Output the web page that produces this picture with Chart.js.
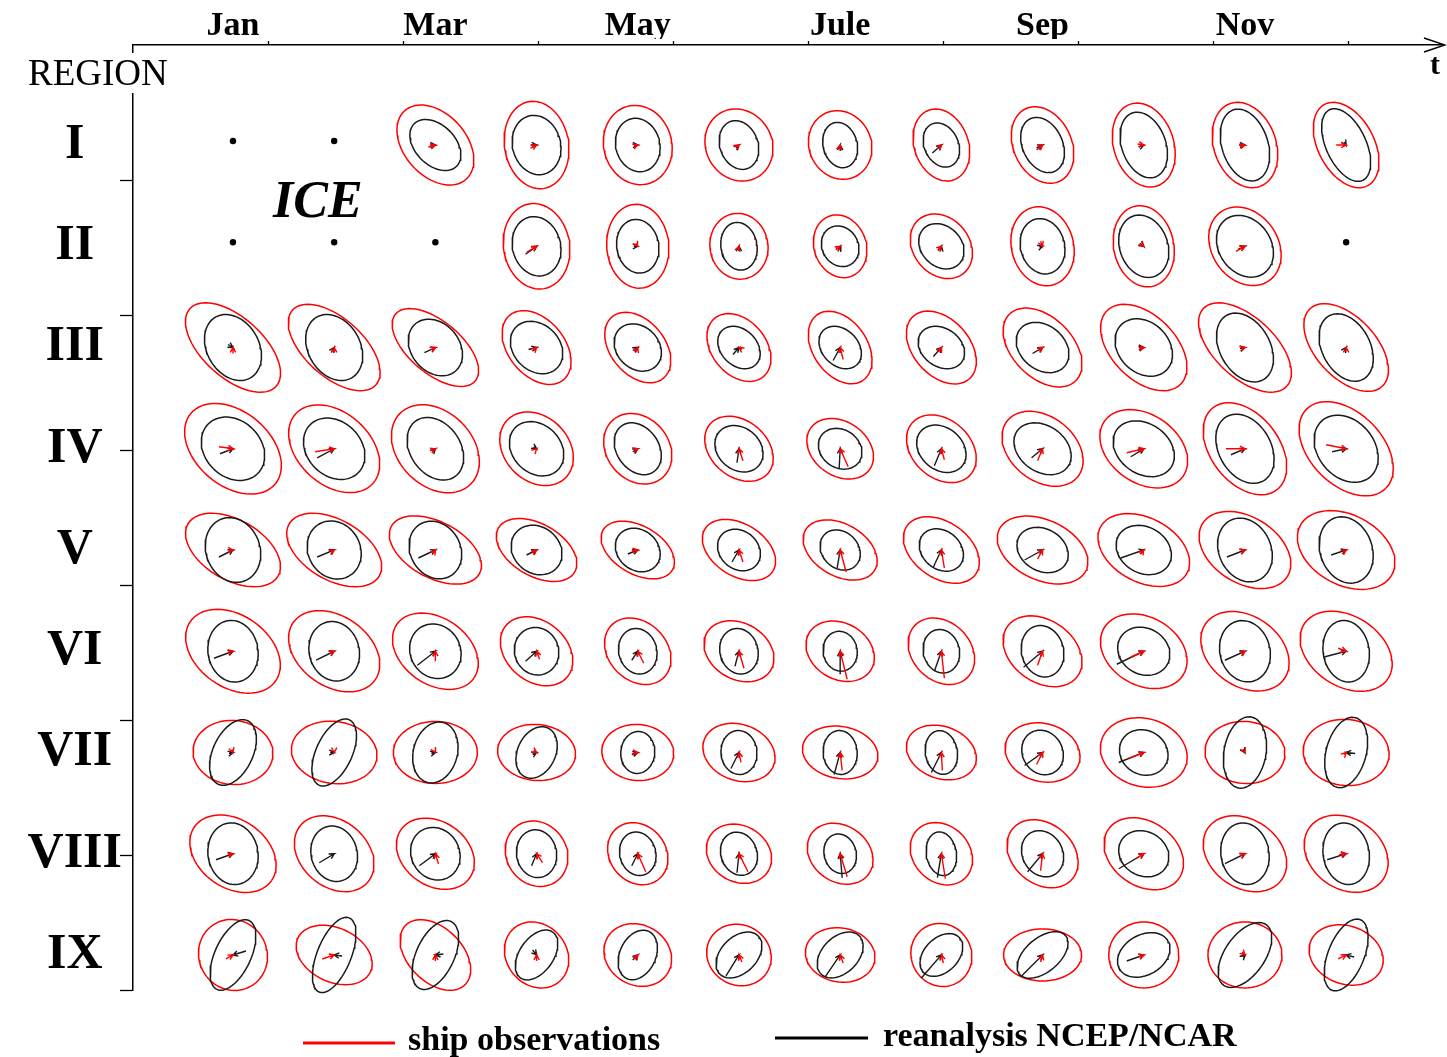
<!DOCTYPE html>
<html>
<head>
<meta charset="utf-8">
<title>Wind variability ellipses by region and month</title>
<script src="https://cdn.jsdelivr.net/npm/chart.js@4.4.1/dist/chart.umd.min.js"></script>
<style>
  html, body { margin: 0; padding: 0; background: #fff; }
  canvas { display: block; }
</style>
</head>
<body>
<canvas id="chart" width="1447" height="1057"></canvas>
<script>
// months along the time axis, regions down the side
const months = ["Jan", "Feb", "Mar", "Apr", "May", "Jun", "Jule", "Aug", "Sep", "Oct", "Nov", "Dec"];
const labelledMonths = [1, 3, 5, 7, 9, 11];
const regions = ["I", "II", "III", "IV", "V", "VI", "VII", "VIII", "IX"];

// cells under ice, [region, month]
const iceCells = [[1, 1], [1, 2], [2, 1], [2, 2], [2, 3], [2, 12]];

// variance ellipses in m/s: [semi-axis a, semi-axis b, tilt of a in degrees], null = ice
const shipEllipse = [
  [null, null, [4.6,3.1,-48], [4.4,3.2,-80], [4.0,3.4,-75], [3.7,3.3,-60], [3.5,3.1,-65], [3.7,2.7,-70], [4.0,2.9,-65], [4.3,3.0,-72], [4.4,3.1,-70], [4.6,2.8,-62]],
  [null, null, null, [4.3,3.3,-80], [4.2,3.1,-85], [3.3,2.9,-80], [3.2,2.6,-70], [3.5,2.8,-50], [4.0,3.1,-75], [4.1,3.0,-78], [4.2,3.3,-55], null],
  [[5.8,3.0,-42], [5.6,2.9,-42], [5.2,2.6,-40], [4.2,2.8,-50], [4.0,2.7,-50], [3.8,2.7,-50], [4.0,2.7,-55], [4.2,2.8,-48], [4.7,3.0,-45], [5.2,3.2,-45], [5.7,3.0,-43], [5.3,3.0,-47]],
  [[5.5,3.7,-40], [5.2,3.6,-42], [5.0,3.7,-45], [4.1,3.2,-45], [3.8,3.1,-50], [3.8,2.8,-40], [3.6,2.7,-35], [3.9,2.9,-42], [4.5,3.2,-38], [4.8,3.4,-35], [5.2,3.4,-52], [5.6,3.6,-45]],
  [[5.2,3.0,-30], [5.2,3.0,-30], [5.0,2.8,-28], [4.4,2.6,-30], [4.0,2.4,-30], [4.0,2.6,-32], [4.0,2.6,-30], [4.2,2.8,-35], [4.8,3.0,-25], [4.9,3.2,-28], [5.0,3.3,-32], [5.2,3.5,-28]],
  [[5.2,3.6,-35], [5.0,3.5,-35], [4.7,3.3,-35], [4.0,3.0,-40], [3.7,2.9,-45], [3.7,2.8,-30], [3.6,2.8,-30], [3.7,2.9,-45], [4.3,3.1,-35], [4.6,3.4,-30], [4.8,3.5,-35], [5.0,3.5,-33]],
  [[4.0,3.2,-5], [4.3,3.1,-8], [4.2,3.1,0], [3.9,2.8,-5], [3.6,2.8,-5], [3.7,2.8,-20], [3.8,2.6,-10], [3.6,2.6,-20], [3.8,2.9,-15], [4.4,3.4,-15], [4.0,3.1,-5], [4.3,3.3,-5]],
  [[4.7,3.4,-35], [4.4,3.3,-40], [4.2,3.2,-35], [3.4,3.0,-55], [3.3,2.8,-50], [3.4,2.8,-30], [3.5,2.8,-35], [3.4,2.8,-45], [3.9,3.0,-40], [4.3,3.2,-35], [4.5,3.4,-35], [4.5,3.5,-35]],
  [[3.6,3.4,-60], [4.0,2.7,-25], [4.2,2.7,-45], [3.5,3.0,-50], [3.5,3.0,-30], [3.3,3.0,-30], [3.5,2.7,-10], [3.2,3.0,-60], [3.9,2.6,0], [3.5,3.3,0], [3.7,3.3,0], [3.8,2.9,-20]]
];

const ncepEllipse = [
  [null, null, [3.0,2.0,-45], [3.0,2.4,-75], [2.7,2.2,-75], [2.5,1.9,-70], [2.3,1.7,-75], [2.3,1.7,-65], [2.9,2.0,-65], [3.4,2.2,-70], [3.7,2.3,-72], [3.9,2.0,-65]],
  [null, null, null, [3.0,2.4,-75], [2.7,2.1,-80], [2.4,1.8,-80], [2.1,1.8,-60], [2.5,2.0,-45], [2.8,2.2,-75], [3.2,2.4,-70], [3.3,2.6,-55], null],
  [[3.5,2.6,-60], [3.5,2.6,-60], [3.1,2.4,-50], [2.9,2.3,-45], [2.6,2.1,-45], [2.4,1.8,-45], [2.4,1.8,-45], [2.5,1.9,-35], [2.9,2.2,-40], [3.2,2.5,-45], [3.7,2.5,-60], [3.6,2.4,-62]],
  [[3.5,2.8,-45], [3.4,2.7,-45], [3.4,2.5,-55], [3.0,2.4,-45], [2.8,2.1,-55], [2.6,2.1,-40], [2.3,1.9,-35], [2.7,2.1,-40], [3.1,2.3,-35], [3.3,2.5,-35], [3.7,2.6,-60], [3.7,2.8,-50]],
  [[3.3,2.7,-70], [3.0,2.6,-60], [3.0,2.5,-60], [2.7,2.3,-40], [2.4,2.0,-40], [2.3,1.9,-40], [2.2,1.8,-45], [2.4,1.9,-40], [2.7,2.1,-30], [2.9,2.3,-30], [3.3,2.6,-65], [3.4,2.6,-70]],
  [[3.1,2.5,-80], [3.0,2.5,-75], [2.8,2.5,-60], [2.4,2.2,-70], [2.3,1.9,-75], [2.3,1.9,-75], [2.0,1.7,-80], [2.2,1.8,-75], [2.6,2.1,-75], [2.7,2.3,-30], [3.1,2.5,-75], [3.1,2.3,-80]],
  [[3.5,2.0,65], [3.6,1.8,65], [3.1,2.2,75], [2.7,1.9,65], [2.1,1.7,85], [2.2,1.8,-85], [2.2,1.7,-85], [2.2,1.6,-80], [2.3,2.0,-60], [2.5,2.2,-30], [3.6,2.1,80], [3.6,2.0,75]],
  [[3.1,2.5,-80], [2.8,2.3,-75], [2.7,2.4,-60], [2.4,2.0,-80], [2.2,1.8,-75], [2.2,1.8,-70], [2.0,1.6,-75], [2.2,1.5,-80], [2.4,2.0,-60], [2.6,2.2,-30], [3.1,2.4,-80], [3.1,2.3,-80]],
  [[3.8,1.8,65], [4.0,1.7,68], [3.7,1.9,65], [2.8,1.7,55], [2.6,1.8,65], [2.7,1.8,45], [2.7,1.8,45], [2.5,1.7,45], [3.0,1.7,40], [2.8,2.0,30], [3.7,2.0,55], [3.8,1.8,68]]
];

// mean wind vectors in m/s: [u, v]
const shipMean = [
  [null, null, [0.7,0.2], [0.6,0.3], [0.3,0.1], [0.3,0.2], [0.1,0.4], [0.2,0.2], [0.6,0.5], [0.6,-0.1], [0.5,0.1], [1.0,0]],
  [null, null, null, [1.0,0.6], [0.2,-0.3], [0.1,0.3], [0.4,0.3], [0.3,0.3], [0.2,-0.5], [0.2,-0.2], [0.9,0.5], null],
  [[0,0.6], [0,0.5], [0.4,0.2], [0.3,0.3], [0.2,0.5], [-0.3,0.2], [-0.3,1.2], [0.2,0.4], [0.4,0.3], [0.4,0.1], [0.3,0.1], [0,0.3]],
  [[1.4,-0.2], [1.9,0.3], [0.5,0.2], [0.1,0.1], [0.3,0.1], [-0.4,1.2], [-0.8,1.8], [-0.3,1.1], [0.5,1.2], [1.7,0.4], [1.9,0], [2.0,-0.4]],
  [[0.4,0], [0.3,0.2], [0.2,0.3], [0.4,0.3], [0.6,0.1], [-0.4,1.2], [-0.6,2.2], [-0.3,1.8], [0.5,0.9], [0.3,0.4], [0.3,0.1], [0.3,0.2]],
  [[0.5,0.1], [0.4,0.2], [0,1.0], [-0.3,0.8], [-0.6,1.2], [-0.5,1.7], [-0.7,2.8], [-0.3,2.7], [0.5,1.4], [1.3,0.6], [0.3,0.2], [0.8,-0.3]],
  [[0.1,-0.3], [0,-0.2], [0.1,-0.2], [0.3,-0.2], [0.4,0], [-0.2,1.0], [-0.2,1.8], [-0.1,1.8], [0.6,1.2], [1.5,0.6], [0.1,-0.2], [0.2,0.2]],
  [[0.5,0.1], [0,0], [-0.3,1.0], [-0.6,0.9], [-0.8,1.8], [-0.9,1.8], [-0.7,2.3], [-0.4,2.5], [0.2,1.7], [0.8,0.5], [0.4,0.2], [0.7,0.1]],
  [[0.7,0.4], [1.2,0.4], [0,0.6], [0,0.6], [0.3,0.4], [-0.3,0.7], [-0.3,0.8], [-0.2,0.8], [0.2,0.7], [0.5,0.2], [0.3,-0.3], [0.8,0.4]]
];

const ncepMean = [
  [null, null, [0.5,0], [0.6,0], [0.4,0], [0.3,0.3], [0,0.6], [0.9,0.8], [0.6,0.3], [0.5,0.2], [0.6,0], [0.2,-0.3]],
  [null, null, null, [1.1,0.8], [0.4,0], [0,0.5], [0.2,0.5], [0.1,0.5], [0.3,0.1], [0.4,-0.3], [0.7,0.3], null],
  [[0.5,-0.3], [0.3,0.5], [1.1,0.5], [0.8,0.2], [0.5,0.3], [0.6,0.7], [0.7,1.3], [0.8,0.9], [1.0,0.6], [0.5,0], [0.5,0.1], [0.2,0.3]],
  [[1.3,0.5], [1.7,0.9], [0.3,0.3], [0.3,-0.2], [0.5,0.3], [0.2,1.4], [0.1,2.0], [0.7,1.7], [1.1,0.9], [1.3,0.8], [1.4,0.6], [1.4,0.3]],
  [[1.4,0.7], [1.7,0.7], [1.7,0.8], [1.0,0.5], [1.0,0.4], [0.7,1.2], [0.3,1.8], [0.8,1.7], [1.8,1.0], [2.3,0.8], [1.8,0.7], [1.5,0.5]],
  [[1.9,0.7], [1.8,0.9], [1.8,1.4], [1.1,1.0], [0.6,0.9], [0.4,1.5], [0,2.3], [0.7,2.0], [1.9,1.6], [2.7,1.3], [2.0,0.9], [2.3,0.6]],
  [[0.4,0.1], [0.4,0], [0.4,0.1], [0.4,0.2], [0.6,0.2], [0.8,1.6], [0.6,2.2], [1.0,2.0], [1.8,1.3], [2.5,1.0], [0.2,-0.3], [-0.9,0.1]],
  [[1.7,0.6], [1.5,0.9], [1.6,1.2], [0.5,1.2], [0.6,1.2], [0.2,1.9], [-0.2,2.4], [0.4,2.4], [1.5,1.8], [2.5,1.5], [2.0,1.0], [1.9,0.6]],
  [[-1.3,-0.4], [-0.8,0.1], [-0.8,-0.1], [0.4,-0.5], [0.5,0.5], [1.3,2.1], [1.5,2.2], [2.0,2.3], [2.1,2.1], [1.7,0.6], [0.2,0.2], [-0.8,0.2]]
];

const SERIF = '"Liberation Serif", "Times New Roman", serif';
const RED = '#ff0000';
const BLACK = '#1a1a1a';
const UNIT = 0.0988;      // grid cells per m/s
const HEAD = 0.055;       // arrowhead length, grid cells

// outline of one ellipse around the cell (month, region)
function ellipsePoints(col, row, e) {
  const [a, b, tilt] = e;
  const th = tilt * Math.PI / 180;
  const pts = [];
  for (let i = 0; i <= 72; i++) {
    const t = i / 72 * 2 * Math.PI;
    const ex = a * Math.cos(t), ey = b * Math.sin(t);
    const dx = ex * Math.cos(th) - ey * Math.sin(th);
    const dy = ex * Math.sin(th) + ey * Math.cos(th);
    pts.push({ x: col + dx * UNIT, y: row - dy * UNIT });
  }
  return pts;
}

// mean vector ending in the cell centre, with an open head
function arrowPoints(col, row, m) {
  const [u, v] = m;
  if (u === 0 && v === 0) return [];
  const ang = Math.atan2(v, u);
  const tip = { x: col, y: row };
  const tail = { x: col - u * UNIT, y: row + v * UNIT };
  const h1 = { x: col - HEAD * Math.cos(ang - 0.5), y: row + HEAD * Math.sin(ang - 0.5) };
  const h2 = { x: col - HEAD * Math.cos(ang + 0.5), y: row + HEAD * Math.sin(ang + 0.5) };
  return [tail, tip, h1, tip, h2];
}

const datasets = [];
regions.forEach((reg, r) => {
  months.forEach((mon, c) => {
    const row = r + 1, col = c + 1;
    if (shipEllipse[r][c]) {
      datasets.push({ data: ellipsePoints(col, row, shipEllipse[r][c]), borderColor: RED, borderWidth: 1.5, order: 3, clip: 12 });
    }
    if (ncepEllipse[r][c]) {
      datasets.push({ data: ellipsePoints(col, row, ncepEllipse[r][c]), borderColor: BLACK, borderWidth: 1.5, order: 2, clip: 12 });
    }
    if (ncepMean[r][c]) {
      datasets.push({ data: arrowPoints(col, row, ncepMean[r][c]), borderColor: BLACK, borderWidth: 1.4, order: 1, clip: 12 });
    }
    if (shipMean[r][c]) {
      datasets.push({ data: arrowPoints(col, row, shipMean[r][c]), borderColor: RED, borderWidth: 1.4, order: 0, clip: 12 });
    }
  });
});
datasets.push({
  data: iceCells.map(([r, c]) => ({ x: c, y: r - 0.04 })),
  showLine: false, pointRadius: 3.2, pointBackgroundColor: '#000', pointBorderWidth: 0, order: 0
});

// text, legend and axis arrow around the grid
const decorations = {
  id: 'decorations',
  afterDraw(chart) {
    const ctx = chart.ctx;
    ctx.save();
    ctx.fillStyle = '#fff';
    ctx.fillRect(128, 53, 10, 40);

    ctx.fillStyle = '#000';
    ctx.textBaseline = 'alphabetic';
    ctx.textAlign = 'left';
    ctx.font = '37px ' + SERIF;
    ctx.fillText('REGION', 28, 85);
    ctx.font = 'italic bold 52px ' + SERIF;
    ctx.fillText('ICE', 273, 217);
    ctx.font = 'bold 30px ' + SERIF;
    ctx.textAlign = 'center';
    ctx.fillText('t', 1435, 74);

    ctx.strokeStyle = '#000';
    ctx.lineWidth = 1.5;
    ctx.beginPath();
    ctx.moveTo(1424, 38); ctx.lineTo(1445, 45); ctx.lineTo(1424, 52);
    ctx.stroke();

    ctx.textAlign = 'left';
    ctx.font = 'bold 34px ' + SERIF;
    ctx.lineWidth = 3;
    ctx.strokeStyle = RED;
    ctx.beginPath(); ctx.moveTo(303, 1043); ctx.lineTo(395, 1043); ctx.stroke();
    ctx.fillText('ship observations', 408, 1050);
    ctx.strokeStyle = '#000';
    ctx.beginPath(); ctx.moveTo(775, 1038); ctx.lineTo(868, 1038); ctx.stroke();
    ctx.fillText('reanalysis NCEP/NCAR', 883, 1046);
    ctx.restore();
  }
};

// tick marks on the bare time and region axes, skipping the corner
const stepTicks = n => s => { s.ticks = Array.from({ length: n }, (_, i) => ({ value: i + 1 })); };

new Chart(document.getElementById('chart'), {
  type: 'line',
  data: { datasets: datasets },
  options: {
    responsive: false,
    animation: false,
    devicePixelRatio: 1,
    events: [],
    parsing: false,
    elements: { point: { radius: 0 }, line: { tension: 0, fill: false } },
    layout: { padding: { left: 0, top: 0, right: 4, bottom: 67 } },
    plugins: { legend: { display: false }, tooltip: { enabled: false } },
    scales: {
      x: {
        type: 'linear', position: 'top', min: 0.012, max: 12.957, weight: 1,
        afterBuildTicks: s => { s.ticks = labelledMonths.map(v => ({ value: v })); },
        afterFit: s => { s.height = 39; },
        ticks: {
          callback: v => months[v - 1], autoSkip: false, maxRotation: 0,
          font: { family: SERIF, size: 34, weight: 'bold' }, color: '#000', padding: -16
        },
        grid: { display: false }, border: { display: false }
      },
      x2: {
        type: 'linear', position: 'top', min: 0, max: 9.7, weight: 0,
        afterBuildTicks: stepTicks(9),
        afterFit: s => { s.height = 6; },
        ticks: { display: false },
        grid: { drawOnChartArea: false, tickLength: 4, tickWidth: 1.3, tickColor: '#000' },
        border: { display: true, color: '#000', width: 1.5 }
      },
      y: {
        type: 'linear', position: 'left', reverse: true, min: 0.012, max: 9.346, weight: 1,
        afterBuildTicks: s => { s.ticks = regions.map((_, i) => ({ value: i + 1 })); },
        afterFit: s => { s.width = 121; },
        ticks: {
          callback: v => regions[v - 1], autoSkip: false, crossAlign: 'center',
          font: { family: SERIF, size: 50, weight: 'bold' }, color: '#000', padding: -9
        },
        grid: { display: false }, border: { display: false }
      },
      y2: {
        type: 'linear', position: 'left', reverse: true, min: 0, max: 7, weight: 0,
        afterBuildTicks: stepTicks(7),
        afterFit: s => { s.width = 12; },
        ticks: { display: false },
        grid: { drawOnChartArea: false, tickLength: 13, tickWidth: 1.3, tickColor: '#000' },
        border: { display: true, color: '#000', width: 1.5 }
      }
    }
  },
  plugins: [decorations]
});
</script>
</body>
</html>
